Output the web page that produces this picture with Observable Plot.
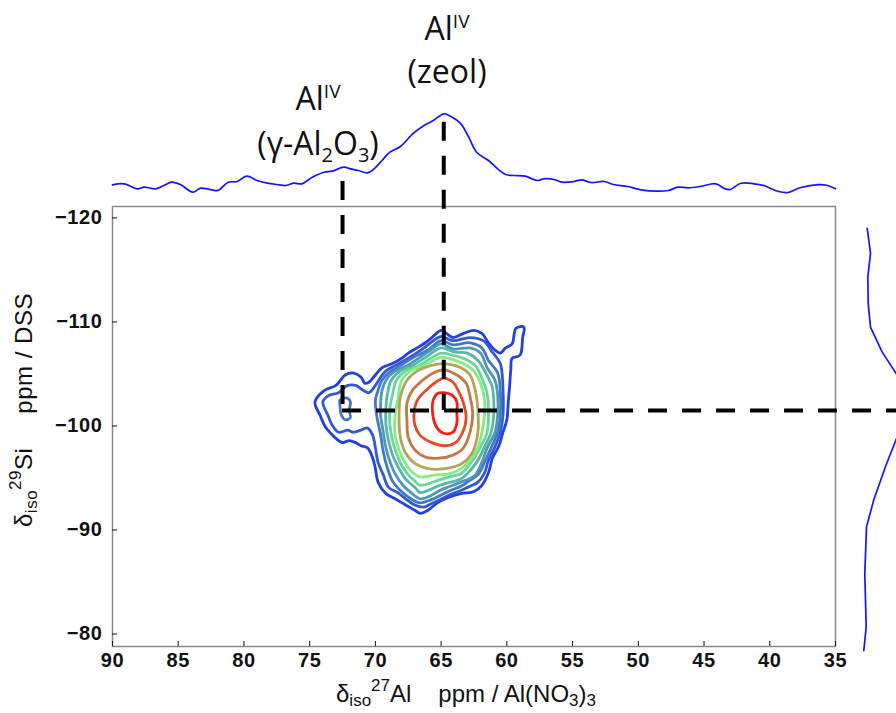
<!DOCTYPE html>
<html>
<head>
<meta charset="utf-8">
<script src="https://cdn.jsdelivr.net/npm/d3@7"></script>
<script src="https://cdn.jsdelivr.net/npm/@observablehq/plot@0.6"></script>
<style>
  html, body { margin: 0; padding: 0; background: #fff; overflow: hidden; }
  #wrap { position: relative; width: 896px; height: 713px; overflow: hidden; background: #fff; }
  #wrap > svg { position: absolute; }
</style>
</head>
<body>
<div id="wrap">
<svg id="ann" width="896" height="713" style="left:0;top:0;z-index:5;pointer-events:none">
  <g font-family="'Open Sans', Lato, sans-serif" fill="#111" text-anchor="middle" font-size="32">
    <text x="447" y="40">Al<tspan font-size="19" dy="-12">IV</tspan></text>
    <text x="447" y="83">(zeol)</text>
    <text x="318" y="110">Al<tspan font-size="19" dy="-12">IV</tspan></text>
    <text x="318" y="155">(γ-Al<tspan font-size="20" dy="7">2</tspan><tspan dy="-7">O</tspan><tspan font-size="20" dy="7">3</tspan><tspan dy="-7">)</tspan></text>
  </g>
  <g font-family="'Liberation Sans', Arial, sans-serif" fill="#111" font-size="24">
    <text x="336" y="702">δ<tspan font-size="17" dy="4">iso</tspan><tspan font-size="17" dy="-15">27</tspan><tspan dy="11">Al</tspan><tspan dx="27">ppm / Al(NO</tspan><tspan font-size="17" dy="4">3</tspan><tspan dy="-4">)</tspan><tspan font-size="17" dy="4">3</tspan></text>
    <text transform="translate(32,527) rotate(-90)" letter-spacing="0.5">δ<tspan font-size="17" dy="5">iso</tspan><tspan font-size="17" dy="-16">29</tspan><tspan dy="11">Si</tspan><tspan dx="34">ppm / DSS</tspan></text>
  </g>
</svg>
</div>
<script>
// ---- axes ----
const xDomain = [90, 35];            // δiso 27Al, ppm (reversed)
const yDomain = [-121.1, -78.8];     // δiso 29Si, ppm (reversed)
const xTicks = [90, 85, 80, 75, 70, 65, 60, 55, 50, 45, 40, 35];
const yTicks = [-120, -110, -100, -90, -80];

// ---- top projection (27Al), intensity in a.u. ----
const topPpm = [90.0,89.1,88.1,87.6,86.7,86.1,85.5,84.8,83.9,83.3,82.7,82.0,81.2,80.5,79.8,79.0,78.2,77.5,76.8,76.2,75.6,74.8,73.9,73.3,72.4,71.9,71.3,70.6,70.1,69.5,68.9,68.1,67.1,66.3,65.6,64.8,64.4,63.5,62.9,62.3,61.4,60.7,60.1,59.5,58.6,57.7,57.2,56.4,55.8,54.9,54.3,53.6,52.6,51.9,50.8,49.8,48.6,47.7,47.0,46.2,45.3,44.1,43.4,43.0,42.2,41.2,40.4,39.4,38.6,37.7,36.5,35.6,35.0];
const topInt = [7.7,8.7,3.7,5.3,3.7,7.0,10.3,7.7,0.3,4.3,3.3,2.0,10.3,11.0,16.3,12.0,9.3,8.0,7.0,9.3,8.7,15.3,20.3,21.3,25.3,23.7,22.0,19.7,23.7,32.0,40.3,46.0,59.3,67.0,72.0,78.7,77.0,68.7,55.3,40.3,32.0,23.7,18.0,17.0,16.3,12.0,13.7,13.0,10.3,11.0,12.7,10.0,11.0,8.0,6.0,2.7,1.3,2.0,5.3,4.7,6.0,8.7,3.7,3.0,9.3,8.7,6.7,1.3,0.0,4.7,7.7,7.0,3.7];

// ---- right projection (29Si), intensity in a.u. ----
const sidePpm = [-119.0,-116.6,-114.3,-111.8,-109.5,-107.1,-105.0,-103.4,-101.5,-99.6,-98.8,-96.1,-92.9,-90.3,-85.8,-80.7,-78.4];
const sideInt = [6.7,10,7.3,7.7,10,21.7,36,50,58,50,36,25,13.3,6,4.3,5.7,3.3];

// ---- peak guides ----
const peakAl = [72.5, 64.8];         // Al(IV) γ-Al2O3, Al(IV) zeolite
const peakAlTop = [-123.5, -129.2];  // upper end of guides (at projection)
const peakSi = -101.5;
const peakSiEnd = 30;

// ---- contour levels (outer → inner) ----
const levelColors = ["#2240e2","#3458d4","#4379c4","#4d98b8","#58b6aa","#6cd698","#86ec84","#b2a65a","#c47844","#e24c24","#ff1c16"];
const contour1 = [[74.6,-102.3],[73.9,-103.4],[73.0,-103.9],[72.3,-104.9],[71.7,-105.1],[71.1,-104.7],[70.8,-104.1],[70.5,-104.2],[70.0,-104.9],[69.5,-105.6],[68.7,-106.0],[67.9,-106.6],[67.5,-107.0],[66.7,-107.6],[66.2,-108.0],[65.8,-108.4],[65.0,-109.2],[64.7,-109.0],[64.1,-108.5],[63.3,-108.9],[62.5,-109.2],[61.9,-108.9],[61.4,-108.0],[60.9,-107.3],[60.5,-107.0],[60.1,-107.5],[59.6,-107.9],[59.3,-109.4],[58.7,-109.5],[58.8,-108.5],[59.0,-106.8],[59.6,-106.5],[59.7,-105.4],[59.8,-103.7],[59.9,-102.2],[60.0,-100.6],[60.3,-99.4],[60.6,-98.1],[61.1,-96.9],[61.4,-95.5],[61.9,-94.3],[62.5,-93.7],[63.5,-93.5],[64.5,-93.1],[65.3,-92.6],[66.0,-91.9],[66.6,-91.6],[67.0,-91.9],[67.7,-92.4],[68.5,-93.0],[69.2,-93.5],[69.8,-94.6],[70.0,-95.9],[70.2,-96.9],[70.6,-97.9],[71.1,-98.1],[71.5,-98.4],[72.0,-98.6],[72.5,-98.4],[73.0,-98.8],[73.4,-99.3],[73.8,-99.9],[74.2,-101.0]];
const contour2 = [[65.0,-108.6],[64.1,-108.2],[62.8,-108.5],[61.8,-108.2],[61.1,-107.1],[60.5,-106.0],[60.3,-103.7],[60.3,-101.0],[60.5,-99.4],[60.9,-98.0],[61.4,-96.7],[61.7,-95.5],[62.2,-94.6],[62.8,-94.2],[63.5,-93.8],[64.3,-93.4],[65.1,-92.9],[65.8,-92.5],[66.3,-92.2],[67.0,-92.4],[67.7,-93.0],[68.3,-93.6],[69.0,-94.1],[69.4,-95.3],[69.8,-96.5],[70.0,-97.9],[70.2,-99.1],[70.6,-99.8],[71.1,-99.6],[71.7,-99.4],[72.1,-99.6],[72.8,-99.4],[73.3,-100.1],[73.6,-101.0],[74.0,-102.3],[73.6,-102.9],[72.8,-103.2],[72.1,-103.9],[71.5,-103.9],[70.9,-103.4],[70.5,-103.2],[70.0,-103.9],[69.6,-104.7],[69.2,-105.3],[68.5,-105.8],[67.8,-106.3],[67.0,-106.9],[66.3,-107.5],[65.7,-108.1]];
const contour3island = [[72.7,-102.5],[72.2,-102.7],[71.9,-102.3],[72.0,-101.5],[71.9,-100.8],[72.3,-100.6],[72.6,-101.1],[72.7,-102.0]];
const contour3 = [[65.0,-108.2],[64.1,-107.8],[62.8,-108.0],[61.9,-107.5],[61.4,-106.3],[60.7,-105.1],[60.5,-103.4],[60.5,-101.0],[60.7,-99.4],[61.2,-97.9],[61.7,-96.5],[62.2,-95.3],[62.8,-94.8],[63.5,-94.2],[64.3,-93.8],[65.1,-93.3],[65.8,-92.9],[66.6,-92.6],[67.3,-93.0],[68.1,-93.8],[68.7,-94.7],[69.1,-96.0],[69.4,-97.5],[69.6,-99.1],[69.9,-101.0],[70.0,-102.5],[69.8,-103.4],[69.5,-104.4],[68.9,-105.2],[68.1,-105.8],[67.1,-106.6],[66.0,-107.3]];
const contour4 = [[65.0,-107.9],[64.1,-107.4],[62.8,-107.5],[62.0,-107.0],[61.5,-105.6],[60.9,-104.4],[60.7,-103.0],[60.7,-101.0],[60.9,-99.4],[61.5,-97.9],[61.9,-96.5],[62.4,-95.3],[62.9,-94.9],[63.5,-94.6],[64.3,-94.2],[65.1,-93.8],[65.8,-93.3],[66.6,-93.0],[67.2,-93.5],[67.9,-94.3],[68.5,-95.4],[68.9,-96.6],[69.2,-97.9],[69.4,-99.4],[69.6,-101.0],[69.6,-102.3],[69.5,-103.4],[69.2,-104.4],[68.6,-105.2],[67.6,-105.8],[66.6,-106.6],[65.7,-107.4]];
const contour5 = [[65.0,-107.5],[63.9,-107.1],[63.0,-107.0],[62.2,-106.3],[61.6,-105.1],[61.1,-103.7],[61.0,-102.5],[61.0,-101.0],[61.2,-99.4],[61.7,-98.0],[62.2,-96.7],[62.8,-95.7],[63.5,-94.9],[64.3,-94.6],[65.1,-94.3],[65.8,-93.9],[66.6,-93.6],[67.0,-94.1],[67.7,-94.9],[68.2,-95.9],[68.7,-97.2],[69.0,-98.6],[69.2,-100.1],[69.2,-101.7],[69.1,-103.0],[68.8,-104.4],[68.1,-105.3],[67.2,-105.8],[66.3,-106.5],[65.5,-107.2]];
const contour6 = [[65.0,-107.0],[64.1,-106.8],[63.3,-106.5],[62.4,-105.8],[61.9,-104.6],[61.5,-103.1],[61.4,-101.5],[61.5,-99.4],[62.0,-98.0],[62.5,-96.9],[62.9,-96.2],[63.5,-95.4],[64.4,-95.1],[65.4,-94.7],[66.6,-94.3],[67.0,-94.7],[67.5,-95.3],[68.0,-96.2],[68.4,-97.4],[68.7,-98.6],[68.9,-100.1],[68.9,-101.7],[68.7,-103.0],[68.4,-104.4],[67.7,-105.3],[66.7,-105.8],[65.8,-106.5]];
const contour7 = [[65.0,-106.6],[63.5,-106.1],[62.6,-105.4],[62.0,-104.1],[61.7,-102.5],[61.7,-101.0],[61.9,-99.4],[62.2,-97.9],[62.8,-96.7],[63.5,-95.9],[64.4,-95.4],[65.4,-95.3],[66.6,-95.1],[67.3,-95.7],[67.8,-96.6],[68.2,-97.7],[68.5,-99.1],[68.5,-101.0],[68.3,-102.5],[68.0,-104.4],[67.3,-105.3],[66.3,-105.8],[65.6,-106.3]];
const contour8 = [[64.8,-106.0],[63.5,-105.6],[62.8,-104.9],[62.4,-103.4],[62.2,-101.5],[62.2,-99.4],[62.6,-97.5],[63.4,-96.4],[64.7,-95.9],[66.0,-95.9],[67.0,-96.4],[67.7,-97.4],[68.1,-98.9],[68.2,-100.8],[68.1,-102.8],[67.6,-104.4],[66.8,-105.3],[65.8,-105.8]];
const contour9 = [[64.8,-105.4],[63.8,-104.9],[63.1,-104.1],[62.8,-102.8],[62.6,-101.2],[62.8,-99.4],[63.3,-97.9],[64.1,-97.2],[65.2,-96.9],[66.2,-97.0],[67.0,-97.7],[67.5,-98.9],[67.6,-100.5],[67.6,-102.2],[67.2,-103.4],[66.4,-104.4],[65.6,-105.1]];
const contour10 = [[64.8,-104.6],[64.1,-104.2],[63.7,-103.4],[63.3,-102.2],[63.1,-100.7],[63.4,-99.3],[63.9,-98.4],[64.7,-98.1],[65.7,-98.4],[66.6,-99.1],[67.0,-100.1],[67.0,-101.8],[66.7,-102.7],[66.0,-103.6],[65.3,-104.3]];
const contour11 = [[64.9,-103.2],[64.1,-102.9],[63.8,-102.3],[63.8,-101.2],[63.8,-100.3],[64.1,-99.4],[64.8,-99.3],[65.3,-99.8],[65.6,-100.8],[65.6,-102.5],[65.3,-103.1]];

(function () {
  const contourSets = [
    [0, contour1], [1, contour2], [2, contour3island], [2, contour3], [3, contour4],
    [4, contour5], [5, contour6], [6, contour7], [7, contour8], [8, contour9],
    [9, contour10], [10, contour11]
  ];
  const contourRows = contourSets.flatMap(([lv, pts], id) =>
    pts.map(([x, y]) => ({id, color: levelColors[lv], x, y})));

  const topRows = topPpm.map((ppm, i) => ({ppm, int: topInt[i]}));
  const sideRows = sidePpm.map((ppm, i) => ({ppm, int: sideInt[i]}));
  const guideV = peakAl.map((x, i) => ({x, y1: peakAlTop[i], y2: peakSi}));
  const guideH = [{y: peakSi, x1: peakAl[0], x2: peakSiEnd}];

  const fmt = d => d < 0 ? "\u2212" + Math.abs(d) : String(d);
  const font = "'Liberation Sans', Arial, sans-serif";
  const dash = {stroke: "#000", strokeWidth: 4, strokeDasharray: "19,15"};

  const mainPlot = Plot.plot({
    width: 896, height: 713,
    marginLeft: 112, marginRight: 61, marginTop: 206, marginBottom: 67,
    style: {fontFamily: font, background: "transparent", overflow: "visible", letterSpacing: "0.6px"},
    x: {domain: xDomain},
    y: {domain: yDomain, reverse: true},
    color: {type: "identity"},
    marks: [
      Plot.line(contourRows, {x: "x", y: "y", z: "id", stroke: "color", strokeWidth: 2.8,
        curve: "catmull-rom-closed", strokeLinejoin: "round"}),
      Plot.frame({stroke: "#8a8a8a", strokeWidth: 1.5}),
      Plot.axisX(xTicks, {anchor: "bottom", tickSize: -5, tickPadding: 11, tickFormat: fmt,
        fontSize: 20, fontWeight: "bold", color: "#111", label: null}),
      Plot.axisY(yTicks, {anchor: "left", tickSize: -5, tickPadding: 15, tickFormat: fmt,
        fontSize: 20, fontWeight: "bold", color: "#111", label: null}),
      Plot.ruleX(guideV, {x: "x", y1: "y1", y2: "y2", ...dash}),
      Plot.ruleY(guideH, {y: "y", x1: "x1", x2: "x2", ...dash})
    ]
  });
  mainPlot.style.left = "0px"; mainPlot.style.top = "0px";

  const topPlot = Plot.plot({
    width: 896, height: 100,
    marginLeft: 112, marginRight: 61, marginTop: 12, marginBottom: 8,
    style: {background: "transparent", overflow: "visible"},
    x: {domain: xDomain, axis: null},
    y: {domain: [0, 80], axis: null},
    marks: [Plot.line(topRows, {x: "ppm", y: "int", stroke: "#1414ff", strokeWidth: 1.7,
      curve: "catmull-rom"})]
  });
  topPlot.style.left = "0px"; topPlot.style.top = "100px";

  const sidePlot = Plot.plot({
    width: 110, height: 713,
    marginLeft: 10, marginRight: 0, marginTop: 206, marginBottom: 67,
    style: {background: "transparent", overflow: "visible"},
    x: {domain: [0, 100], axis: null},
    y: {domain: yDomain, reverse: true, axis: null},
    marks: [Plot.line(sideRows, {x: "int", y: "ppm", stroke: "#1414ff", strokeWidth: 1.7})]
  });
  sidePlot.style.left = "850px"; sidePlot.style.top = "0px";

  const wrap = document.getElementById("wrap");
  const ann = document.getElementById("ann");
  wrap.insertBefore(mainPlot, ann);
  wrap.insertBefore(topPlot, ann);
  wrap.insertBefore(sidePlot, ann);
})();
</script>
</body>
</html>
